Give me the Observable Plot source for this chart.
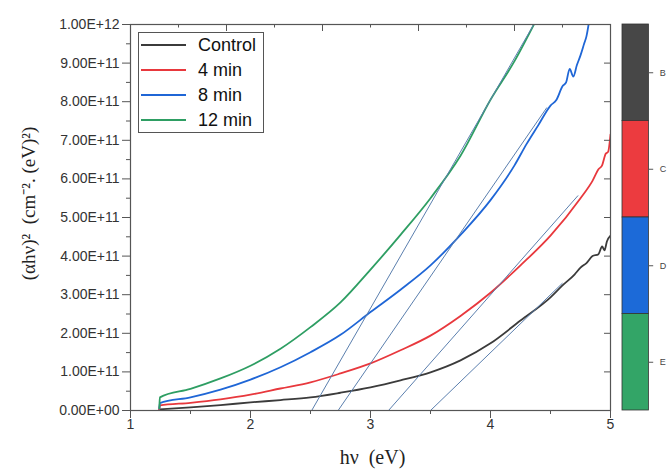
<!DOCTYPE html>
<html><head><meta charset="utf-8">
<script src="https://cdn.jsdelivr.net/npm/d3@7"></script>
<script src="https://cdn.jsdelivr.net/npm/@observablehq/plot@0.6"></script>
<style>
body{margin:0;background:#fff;}
#wrap{position:relative;width:670px;height:473px;}
#legend{position:absolute;left:138px;top:32px;width:126px;height:101px;border:1px solid #555;box-sizing:border-box;background:#fff;font-family:"Liberation Sans",Arial,sans-serif;font-size:18px;color:#111;}
.row{position:absolute;left:2px;height:22px;display:flex;align-items:center;}
.row span.sw{display:inline-block;width:45px;height:0;border-top:2px solid;margin-right:12px;}
</style></head>
<body><div id="wrap"><div id="legend"></div></div>
<script>
// ---- data (y in units of 1e10 cm^-2 eV^2) ----
const seriesNames = ["Control", "4 min", "8 min", "12 min"];
const seriesColors = ["#3b3b3b", "#e8383d", "#1f66d6", "#2e9e63"];

const controlX = [1.24, 1.5, 1.75, 2.0, 2.25, 2.5, 2.75, 3.0, 3.25, 3.5, 3.75, 4.0, 4.25, 4.5, 4.6, 4.7, 4.75, 4.8, 4.85, 4.9, 4.93, 4.95, 4.97, 5.0];
const controlY = [0.3, 0.8, 1.4, 2.1, 2.7, 3.4, 4.6, 6.0, 7.8, 9.9, 13.0, 17.4, 23.3, 29.3, 32.4, 35.2, 37.0, 38.2, 40.0, 40.5, 42.5, 41.5, 43.8, 45.3];

const min4X = [1.24, 1.245, 1.5, 1.75, 2.0, 2.25, 2.5, 2.75, 3.0, 3.25, 3.5, 3.75, 4.0, 4.25, 4.5, 4.75, 4.85, 4.9, 4.93, 4.96, 4.98, 5.0];
const min4Y = [0.3, 1.3, 2.0, 2.9, 4.1, 5.7, 7.3, 9.6, 12.2, 15.6, 19.4, 24.5, 30.5, 37.6, 45.3, 55.0, 59.5, 62.5, 63.5, 66.5, 67.0, 71.5];

const min8X = [1.24, 1.245, 1.5, 1.75, 2.0, 2.25, 2.5, 2.75, 3.0, 3.25, 3.5, 3.75, 4.0, 4.2, 4.3, 4.4, 4.5, 4.55, 4.6, 4.63, 4.66, 4.69, 4.72, 4.75, 4.78, 4.8, 4.82];
const min8Y = [0.5, 1.9, 3.4, 5.4, 8.0, 11.2, 15.1, 19.6, 25.5, 31.3, 37.6, 45.5, 54.5, 63.5, 69.0, 74.0, 79.0, 80.5, 84.0, 85.0, 88.5, 86.5, 89.5, 92.0, 95.0, 97.0, 100.5];

const min12X = [1.24, 1.245, 1.5, 1.75, 2.0, 2.25, 2.5, 2.75, 3.0, 3.25, 3.5, 3.75, 4.0, 4.2, 4.37];
const min12Y = [0.6, 3.4, 5.6, 8.3, 11.6, 16.0, 21.6, 28.0, 36.5, 45.5, 55.0, 66.0, 80.5, 90.5, 100.5];

// Tauc tangent lines (x-intercept, end point)
const tangentStartX = [3.50, 3.15, 2.73, 2.51];
const tangentEndX = [4.60, 4.73, 4.47, 4.36];
const tangentEndY = [33.0, 55.7, 78.5, 100.0];

// colour bar
const barLabels = ["B", "C", "D", "E"];
const barColors = ["#474747", "#ec3b3f", "#1c6ad8", "#33a567"];

// axis ticks
const yMajor = d3.range(0, 101, 10);
const yMinor = d3.range(5, 100, 10);
const xMajor = [1, 2, 3, 4, 5];
const xMinor = [1.5, 2.5, 3.5, 4.5];
const topMajor = [1.8, 2.6, 3.4, 4.2];
const topMinor = [1.4, 2.2, 3.0, 3.8, 4.6];

// ---- build ----
const allX = [controlX, min4X, min8X, min12X];
const allY = [controlY, min4Y, min8Y, min12Y];
const curves = [];
allX.forEach((xs, i) => xs.forEach((x, j) => curves.push({series: seriesNames[i], x, y: allY[i][j] * 1e10})));
const tangents = tangentStartX.map((x1, i) => ({x1, y1: 0, x2: tangentEndX[i], y2: tangentEndY[i] * 1e10}));
const bar = barLabels.map((label, i) => ({label, color: barColors[i], y1: (1 - i * 0.25) * 1e12, y2: (0.75 - i * 0.25) * 1e12}));

function fmtE(v) {
  if (v === 0) return "0.00E+00";
  const e = Math.floor(Math.log10(v) + 1e-9);
  return (v / Math.pow(10, e)).toFixed(2) + "E+" + String(e).padStart(2, "0");
}

const Y = 1e12;
const chart = Plot.plot({
  width: 670, height: 473,
  marginLeft: 130, marginRight: 60, marginTop: 24, marginBottom: 63,
  x: {domain: [1, 5]},
  y: {domain: [0, Y]},
  style: {fontFamily: "'Liberation Sans', Arial, sans-serif", fontSize: "14px", color: "#333", background: "#fff"},
  marks: [
    Plot.line(curves, {x: "x", y: "y", z: "series", stroke: d => seriesColors[seriesNames.indexOf(d.series)], strokeWidth: 1.8, curve: "monotone-x", clip: true}),
    Plot.link(tangents, {x1: "x1", y1: "y1", x2: "x2", y2: "y2", stroke: "#5b7fae", strokeWidth: 1, clip: true}),
    Plot.frame({stroke: "#555", strokeWidth: 1.2}),
    Plot.axisY(yMajor.map(v => v * 1e10), {tickSize: 8, tickPadding: 3, fontSize: 14, tickFormat: fmtE, label: null, stroke: "#555"}),
    Plot.axisY(yMinor.map(v => v * 1e10), {tickSize: 4, text: null, label: null, stroke: "#555"}),
    Plot.axisX(xMajor, {tickSize: 8, tickPadding: 1, fontSize: 14, tickFormat: d => String(d), label: null, stroke: "#555"}),
    Plot.axisX(xMinor, {tickSize: 4, text: null, label: null, stroke: "#555"}),
    Plot.ruleY(yMajor.map(v => v * 1e10), {y: d => d, x1: 4.95, x2: 5, stroke: "#555"}),
    Plot.ruleX(topMajor, {x: d => d, y1: Y, y2: Y * (1 - 7 / 386), stroke: "#555"}),
    Plot.ruleX(topMinor, {x: d => d, y1: Y, y2: Y * (1 - 3.5 / 386), stroke: "#555"}),
    // colour bar
    Plot.rect(bar, {x1: 5.1, x2: 5.32, y1: "y1", y2: "y2", fill: "color", stroke: "#333", strokeWidth: 0.8}),
    Plot.ruleY(bar, {y: d => (d.y1 + d.y2) / 2, x1: 5.32, x2: 5.36, stroke: "#555"}),
    Plot.text(bar, {x: 5.41, y: d => (d.y1 + d.y2) / 2, text: "label", textAnchor: "start", fontSize: 9, fill: "#444"}),
    // axis titles
    Plot.text(["(αhν)²  (cm⁻². (eV)²)"], {frameAnchor: "left", textAnchor: "middle", dx: -102, dy: -14, rotate: -90, fontFamily: "'Liberation Serif', 'Times New Roman', serif", fontSize: 19, fill: "#222"}),
    Plot.text(["hν  (eV)"], {frameAnchor: "bottom", dx: 2, dy: 53, fontFamily: "'Liberation Serif', 'Times New Roman', serif", fontSize: 20, fill: "#222"})
  ]
});
const wrap = document.getElementById("wrap");
wrap.insertBefore(chart, wrap.firstChild);

const legend = document.getElementById("legend");
seriesNames.forEach((name, i) => {
  const row = document.createElement("div");
  row.className = "row";
  row.style.top = (1 + i * 25) + "px";
  row.innerHTML = `<span class="sw" style="border-color:${seriesColors[i]}"></span>${name}`;
  legend.appendChild(row);
});
</script>
</body></html>
